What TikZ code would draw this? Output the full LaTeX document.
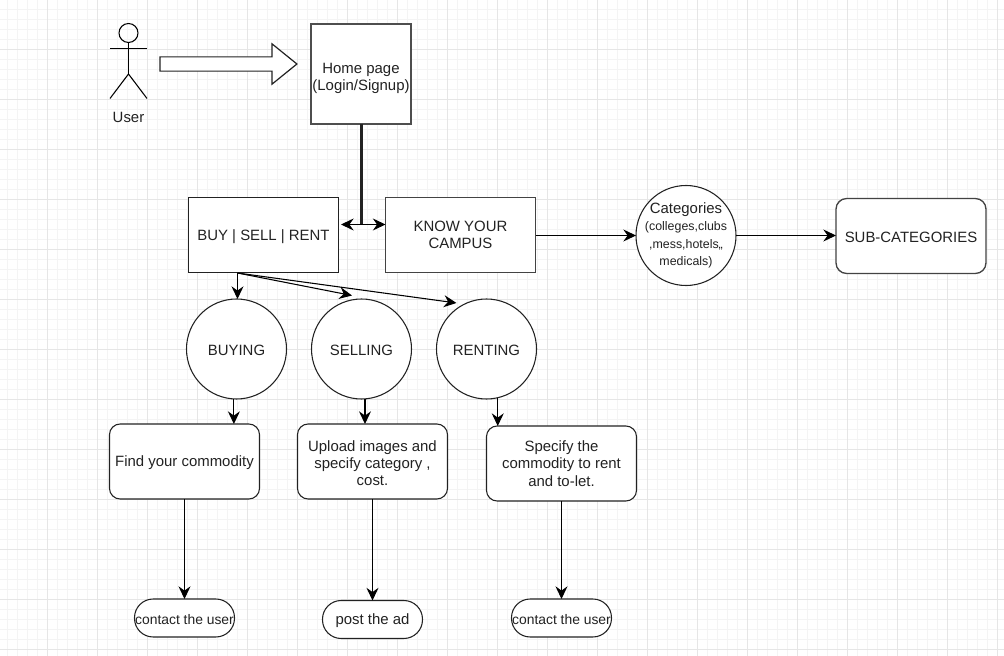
\documentclass[tikz,border=0pt]{standalone}
\usepackage{fontspec}
\setmainfont{Liberation Sans}
\usetikzlibrary{arrows.meta}
\usetikzlibrary{shapes.arrows}

\definecolor{gridminor}{HTML}{F4F4F4}
\definecolor{gridmajor}{HTML}{E6E6E6}
\definecolor{ink}{HTML}{222222}
\newcommand{\catfont}{\fontsize{9.3}{13}\selectfont}

\begin{document}
\begin{tikzpicture}
[x=0.75pt,y=-0.75pt,%
  every node/.style={inner sep=0pt,outer sep=0pt,align=center,text=ink,%
    font=\fontsize{11.2}{13}\selectfont},%
  lowtext/.style={execute at begin node=\rule{0pt}{10pt}},%
  boxnode/.style={lowtext,draw=ink,fill=white,line width=0.8pt,minimum width=112.5pt,minimum height=56.25pt},%
  roundnode/.style={boxnode,rounded corners=8pt},%
  circlenode/.style={lowtext,shape=circle,draw=ink,fill=white,line width=0.8pt,minimum size=75pt},%
  endnode/.style={lowtext,draw=ink,fill=white,line width=0.8pt,rounded corners=14pt,%
    minimum width=75pt,minimum height=28.5pt},%
  contactfont/.style={font=\fontsize{10.4}{13}\selectfont},%
  flow/.style={draw=black,line width=0.8pt,-{Stealth[length=9.5pt,width=9pt,inset=3.2pt]}},%
  limb/.style={draw=black,line width=0.8pt}]
\useasboundingbox (0,0) rectangle (1004,656);
\fill[white] (0,0) rectangle (1004,656);
\foreach \x in {7,17,...,997}
  \draw[gridminor,line width=0.6pt] (\x,0) -- (\x,656);
\foreach \y in {9,19,...,649}
  \draw[gridminor,line width=0.6pt] (0,\y) -- (1004,\y);
\foreach \x in {47,97,...,997}
  \draw[gridmajor,line width=0.7pt] (\x,0) -- (\x,656);
\foreach \y in {49,99,...,649}
  \draw[gridmajor,line width=0.7pt] (0,\y) -- (1004,\y);

\node[shape=circle,draw=black,line width=0.8pt,minimum size=14.25pt] (userhead) at (128.5,33) {};
\coordinate (userhip) at (128.5,74);
\coordinate (armleft) at (110,48.5);
\coordinate (armright) at (147,48.5);
\coordinate (footleft) at (110,98.5);
\coordinate (footright) at (147,98.5);
\draw[limb] (userhead.south) -- (userhip);
\draw[limb] (armleft) -- (armright);
\draw[limb] (footleft) -- (userhip) -- (footright);
\node (userlabel) at (128.5,117) {User};
\node[shape=single arrow,draw=ink,fill=white,line width=0.9pt,inner ysep=4.9pt,inner xsep=0pt,%
  minimum height=102.75pt,minimum width=29.25pt,single arrow head extend=9.75pt,%
  single arrow tip angle=78] (userarrow) at (224,64) {};

\node[boxnode,minimum width=75pt,minimum height=75pt,draw=ink!80,line width=1.2pt] (home) at (361,74)
  {\rule{0pt}{14pt}Home page\\(Login/Signup)};
\node[boxnode] (buysell) at (263.5,235) {BUY | SELL | RENT};
\node[boxnode,draw=ink!85,line width=1pt] (campus) at (460.5,235) {KNOW YOUR\\CAMPUS};
\node[circlenode,label={[lowtext]center:{Categories\\\catfont (colleges,clubs\\\catfont ,mess,hotels,,\\\catfont medicals)}}]
  (categories) at (686,235.5) {};
\node[roundnode,draw=ink!85,line width=1pt] (subcat) at (911,236) {SUB-CATEGORIES};

\node[circlenode] (buying) at (236.5,349) {BUYING};
\node[circlenode] (selling) at (361.5,349) {SELLING};
\node[circlenode] (renting) at (486.5,349) {RENTING};

\node[roundnode] (find) at (184.5,461.5) {Find your commodity};
\node[roundnode] (upload) at (372.5,461.5) {\rule{0pt}{10.5pt}Upload images and\\specify category ,\\cost.};
\node[roundnode] (specify) at (561.5,463.5) {Specify the\\commodity to rent\\and to-let.};

\node[endnode,contactfont] (contactone) at (184.5,618) {contact the user};
\node[endnode] (postad) at (372.5,619.5) {post the ad};
\node[endnode,contactfont] (contacttwo) at (561.5,618) {contact the user};

\coordinate (hub) at (361.5,224.5);
\coordinate (hubleft) at (341,224.5);
\coordinate (buytail) at (237.5,273);
\coordinate (sellingtip) at (352,295.5);
\coordinate (rentingtip) at (456.5,303);

\draw[draw=ink,line width=1.9pt] (home.south -| hub) -- (hub);
\draw[flow] (hub) -- (hubleft);
\draw[flow] (hub) -- (campus.west |- hub);
\draw[flow] (campus.east |- categories.west) -- (categories.west);
\draw[flow] (categories.east) -- (subcat.west |- categories.east);

\draw[flow] (buytail) -- (buytail |- buying.north);
\draw[flow] (buytail) -- (sellingtip);
\draw[flow] (buytail) -- (rentingtip);

\draw[flow] (buying.-93.4) -- (buying.-93.4 |- find.north);
\draw[flow] (selling.-86.6) -- (selling.-86.6 |- upload.north);
\draw[flow] (renting.-77) -- (renting.-77 |- specify.north);

\draw[flow] (find) -- (contactone);
\draw[flow] (upload) -- (postad);
\draw[flow] (specify) -- (contacttwo);
\end{tikzpicture}
\end{document}
